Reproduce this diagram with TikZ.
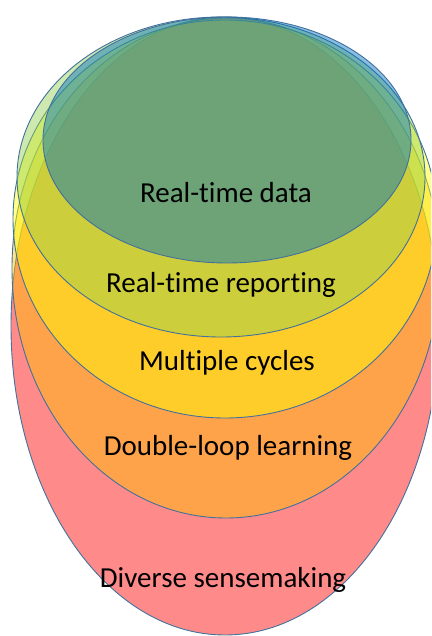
\documentclass[tikz,border=0pt]{standalone}
\usepackage{fontspec}
\setmainfont{Carlito}[Ligatures=NoCommon]
\usepackage{tikz}
\usetikzlibrary{positioning}

\definecolor{ringline}{HTML}{41719C}
\definecolor{ringred}{HTML}{FF0000}
\definecolor{ringorange}{HTML}{FFC000}
\definecolor{ringyellow}{HTML}{FFFF00}
\definecolor{ringlime}{HTML}{92D050}
\definecolor{ringblue}{HTML}{0070C0}

\begin{document}
\begin{tikzpicture}[x=1pt, y=-1pt,
    ring/.style={draw=ringline, line width=0.9pt, fill opacity=0.46},
    lbl/.style={anchor=base, font=\fontsize{29}{34}\selectfont}]
                \useasboundingbox (0,0) rectangle (431,636);
                \clip (0,0) rectangle (431,636);

                \filldraw[ring, fill=ringred]    (225,326) ellipse [x radius=214, y radius=309];
                \filldraw[ring, fill=ringorange] (226,268) ellipse [x radius=214, y radius=250];
                \filldraw[ring, fill=ringyellow] (225,219) ellipse [x radius=212, y radius=199];
                \filldraw[ring, fill=ringlime]   (221,177) ellipse [x radius=204, y radius=160];
                \filldraw[ring, fill=ringblue]   (227,140) ellipse [x radius=184, y radius=123];

                \node[lbl] (data)   at (226,203) {Real-time data};
                \node[lbl] (report) at (221,292) {Real-time reporting};
                \node[lbl] (cycles) at (227,370) {Multiple cycles};
                \node[lbl] (loop)   at (228,455) {Double-loop learning};
                \node[lbl] (sense)  at (223,587) {Diverse sensemaking};
              \end{tikzpicture}
\end{document}
